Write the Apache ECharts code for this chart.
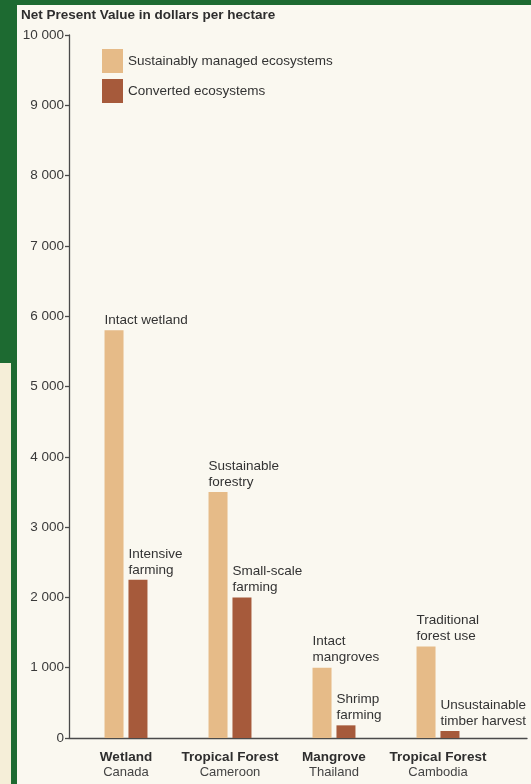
<!DOCTYPE html>
<html>
<head>
<meta charset="utf-8">
<script src="https://cdn.jsdelivr.net/npm/echarts@6/dist/echarts.min.js"></script>
<style>
    html, body { margin: 0; padding: 0; background: #1d6a31; }
    #chart { width: 531px; height: 784px; }
</style>
</head>
<body>
<div id="chart"></div>
<script>
// chart data
const ecosystems = ['Wetland', 'Tropical Forest', 'Mangrove', 'Tropical Forest']
const countries = ['Canada', 'Cameroon', 'Thailand', 'Cambodia']
const sustainable = [5800, 3500, 1000, 1300]
const converted = [2250, 2000, 180, 100]
const sustainableNotes = ['Intact wetland', 'Sustainable\nforestry', 'Intact\nmangroves', 'Traditional\nforest use']
const convertedNotes = ['Intensive\nfarming', 'Small-scale\nfarming', 'Shrimp\nfarming', 'Unsustainable\ntimber harvest']
const yMax = 10000
const yStep = 1000

const FONT = '"Liberation Sans", Arial, sans-serif'
const INK = '#333'

onload = () => {
    let myChart = echarts.init(document.getElementById('chart'))
    let option

    // bar label sits just above the bar, left aligned with it
    const noteLabel = (notes) => ({
        show: true,
        position: [0, -2],
        align: 'left',
        verticalAlign: 'bottom',
        formatter: p => notes[p.dataIndex],
        fontFamily: FONT,
        fontSize: 13.5,
        lineHeight: 16,
        color: INK
    })

    option = {
        backgroundColor: '#1d6a31',
        animation: false,
        graphic: [
            { type: 'rect', z: -10, shape: { x: 17, y: 5, width: 514, height: 779 }, style: { fill: '#faf8f0' } },
            { type: 'rect', z: -10, shape: { x: 0, y: 363, width: 11, height: 421 }, style: { fill: '#f5eed8' } }
        ],
        title: {
            text: 'Net Present Value in dollars per hectare',
            left: 21,
            top: 8,
            padding: 0,
            textStyle: { fontFamily: FONT, fontSize: 13.5, fontWeight: 'bold', color: '#2e2e2e' }
        },
        legend: {
            orient: 'vertical',
            left: 97,
            top: 44,
            itemWidth: 21,
            itemHeight: 24,
            itemGap: 6,
            icon: 'rect',
            textStyle: { fontFamily: FONT, fontSize: 13.5, color: INK, padding: [8, 0, 0, 0] },
            data: ['Sustainably managed ecosystems', 'Converted ecosystems']
        },
        grid: [
            { left: 74, width: 416, top: 35, bottom: 46 },
            { left: 69, right: 4, top: 35, bottom: 46 }
        ],
        xAxis: [
            {
                type: 'category',
                gridIndex: 0,
                data: ecosystems.map((e, i) => e + '|' + countries[i]),
                axisLine: { show: false },
                axisTick: { show: false },
                axisLabel: {
                    interval: 0,
                    margin: 11,
                    formatter: v => {
                        let [a, b] = v.split('|')
                        return `{b|${a}}\n{n|${b}}`
                    },
                    rich: {
                        b: { fontFamily: FONT, fontSize: 13.5, fontWeight: 'bold', color: '#2e2e2e', lineHeight: 16 },
                        n: { fontFamily: FONT, fontSize: 13, color: '#444', lineHeight: 15 }
                    }
                }
            },
            {
                type: 'value',
                gridIndex: 1,
                min: 0,
                max: 1,
                axisLine: { show: true, lineStyle: { color: '#4a4a4a', width: 1.3 } },
                axisTick: { show: false },
                axisLabel: { show: false },
                splitLine: { show: false }
            }
        ],
        yAxis: [
            { type: 'value', gridIndex: 0, min: 0, max: yMax, show: false },
            {
                type: 'value',
                gridIndex: 1,
                min: 0,
                max: yMax,
                interval: yStep,
                axisLine: { show: true, lineStyle: { color: '#4a4a4a', width: 1.3 } },
                axisTick: { show: true, length: 4, lineStyle: { color: '#4a4a4a', width: 1.3 } },
                splitLine: { show: false },
                axisLabel: {
                    margin: 5,
                    fontFamily: FONT,
                    fontSize: 13.5,
                    color: '#3a3a3a',
                    formatter: v => String(v).replace(/\B(?=(\d{3})+(?!\d))/g, ' ')
                }
            }
        ],
        series: [
            {
                name: 'Sustainably managed ecosystems',
                type: 'bar',
                xAxisIndex: 0,
                yAxisIndex: 0,
                barWidth: 19,
                barGap: '26%',
                itemStyle: { color: '#e6bb88' },
                label: noteLabel(sustainableNotes),
                data: sustainable
            },
            {
                name: 'Converted ecosystems',
                type: 'bar',
                xAxisIndex: 0,
                yAxisIndex: 0,
                barWidth: 19,
                barGap: '26%',
                itemStyle: { color: '#a65a3b' },
                label: noteLabel(convertedNotes),
                data: converted
            }
        ]
    }

    option && myChart.setOption(option)
}
</script>
</body>
</html>
